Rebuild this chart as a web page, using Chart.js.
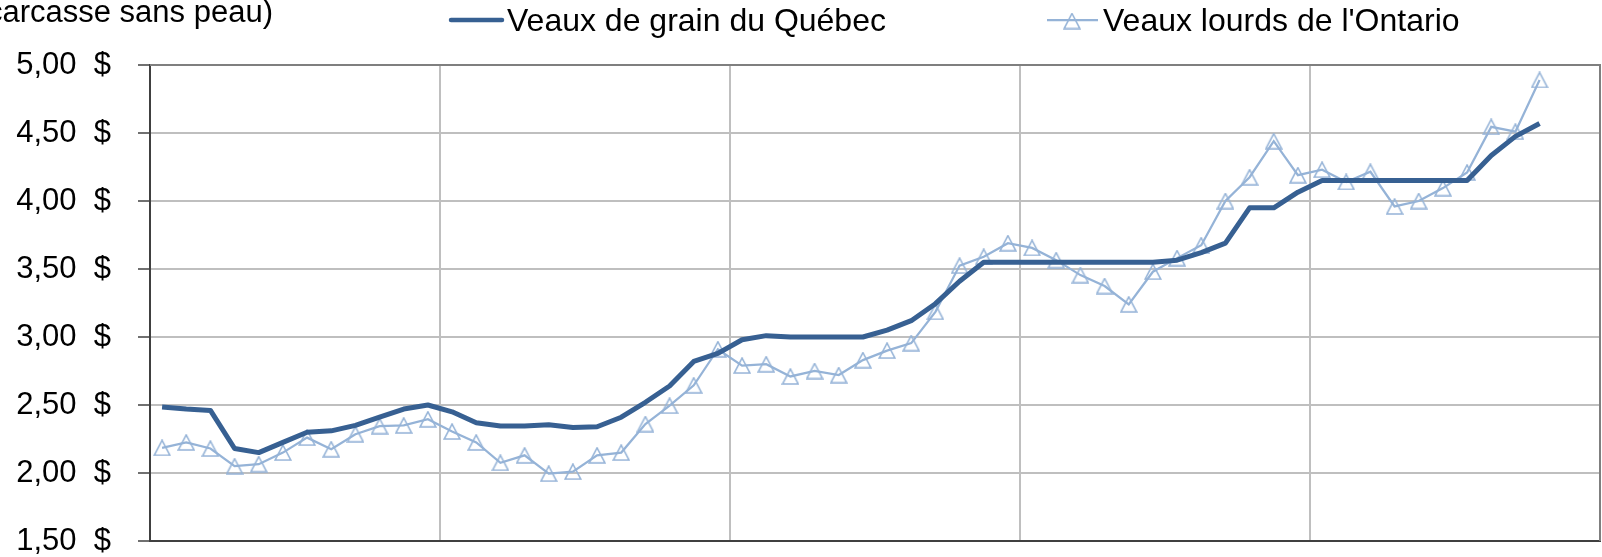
<!DOCTYPE html>
<html lang="fr">
<head>
<meta charset="utf-8">
<title>Prix des veaux</title>
<script src="https://cdn.jsdelivr.net/npm/chart.js@4.4.1/dist/chart.umd.min.js"></script>
<style>
  html, body { margin: 0; padding: 0; background: #fff; }
  #graphique { display: block; }
</style>
</head>
<body>
<canvas id="graphique" width="1602" height="557"></canvas>
<script>
// Catégories : 5 années de 12 mois (aucune étiquette n'est affichée sur l'axe)
const nomsMois = ['janv.', 'févr.', 'mars', 'avr.', 'mai', 'juin', 'juil.', 'août', 'sept.', 'oct.', 'nov.', 'déc.'];
const annees = ['an 1', 'an 2', 'an 3', 'an 4', 'an 5'];
const mois = annees.flatMap(a => nomsMois.map(m => m + ' ' + a));

// Prix ($)
const veauxQuebec = [
    2.485, 2.47, 2.46, 2.18, 2.15, 2.225, 2.30, 2.31, 2.35, 2.41, 2.47, 2.50,
    2.45, 2.37, 2.345, 2.345, 2.355, 2.335, 2.34, 2.41, 2.52, 2.64, 2.82, 2.88,
    2.98, 3.01, 3.00, 3.00, 3.00, 3.00, 3.05, 3.12, 3.245, 3.41, 3.55, 3.55,
    3.55, 3.55, 3.55, 3.55, 3.55, 3.55, 3.565, 3.62, 3.69, 3.95, 3.95, 4.065,
    4.15, 4.15, 4.15, 4.15, 4.15, 4.15, 4.15, 4.335, 4.475, 4.57
];
const veauxOntario = [
    2.185, 2.225, 2.18, 2.05, 2.065, 2.15, 2.26, 2.175, 2.285, 2.345, 2.35, 2.395,
    2.305, 2.225, 2.075, 2.13, 1.995, 2.01, 2.13, 2.15, 2.36, 2.495, 2.645, 2.91,
    2.79, 2.80, 2.71, 2.75, 2.72, 2.83, 2.90, 2.955, 3.185, 3.525, 3.59, 3.69,
    3.655, 3.565, 3.455, 3.375, 3.24, 3.48, 3.58, 3.675, 4.00, 4.175, 4.44, 4.19,
    4.23, 4.14, 4.215, 3.96, 4.00, 4.095, 4.21, 4.545, 4.51, 4.89
];

const graduationsY = [1.5, 2.0, 2.5, 3.0, 3.5, 4.0, 4.5, 5.0];

const POLICE = '"Liberation Sans", Arial, sans-serif';
const BLEU_FONCE = '#376092';
const BLEU_PALE = '#95B3D7';

// Triangle creux façon Excel, centré sur le point
function creerTriangle() {
    const c = document.createElement('canvas');
    c.width = 18;
    c.height = 17;
    const g = c.getContext('2d');
    g.strokeStyle = BLEU_PALE;
    g.lineWidth = 1.6;
    g.lineJoin = 'miter';
    g.beginPath();
    g.moveTo(9, 1);
    g.lineTo(16.8, 16);
    g.lineTo(1.2, 16);
    g.closePath();
    g.stroke();
    return c;
}
const triangle = creerTriangle();

// Légende, titre tronqué et bordure de la zone de tracé
const decor = {
    id: 'decor',
    afterDraw(chart) {
        const { ctx, chartArea: a } = chart;
        ctx.save();

        ctx.strokeStyle = '#7F7F7F';
        ctx.lineWidth = 2;
        ctx.beginPath();
        ctx.moveTo(a.left, a.top);
        ctx.lineTo(a.right, a.top);
        ctx.lineTo(a.right, a.bottom);
        ctx.stroke();

        ctx.fillStyle = '#000';
        ctx.textBaseline = 'alphabetic';
        ctx.font = '31px ' + POLICE;
        ctx.textAlign = 'right';
        ctx.fillText('(carcasse sans peau)', 273, 22);

        ctx.font = '32px ' + POLICE;
        ctx.textAlign = 'left';

        // Québec
        ctx.strokeStyle = BLEU_FONCE;
        ctx.lineWidth = 4.5;
        ctx.lineCap = 'round';
        ctx.beginPath();
        ctx.moveTo(451, 20);
        ctx.lineTo(502, 20);
        ctx.stroke();
        ctx.fillText(chart.data.datasets[0].label, 507, 31);

        // Ontario
        ctx.strokeStyle = BLEU_PALE;
        ctx.lineWidth = 2.25;
        ctx.lineCap = 'butt';
        ctx.beginPath();
        ctx.moveTo(1047, 20);
        ctx.lineTo(1098, 20);
        ctx.stroke();
        ctx.drawImage(triangle, 1072 - 9, 21 - 8.5);
        ctx.fillText(chart.data.datasets[1].label, 1103, 31);

        ctx.restore();
    }
};

new Chart(document.getElementById('graphique'), {
    type: 'line',
    data: {
        labels: mois,
        datasets: [
            {
                label: 'Veaux de grain du Québec',
                data: veauxQuebec,
                borderColor: BLEU_FONCE,
                borderWidth: 5,
                borderJoinStyle: 'round',
                pointRadius: 0,
                tension: 0
            },
            {
                label: "Veaux lourds de l'Ontario",
                data: veauxOntario,
                borderColor: BLEU_PALE,
                borderWidth: 2.25,
                pointStyle: triangle,
                pointRadius: 9,
                tension: 0
            }
        ]
    },
    options: {
        responsive: false,
        animation: false,
        layout: {
            autoPadding: false,
            padding: { top: 65, right: 2, bottom: 0, left: 0 }
        },
        plugins: {
            legend: { display: false },
            tooltip: { enabled: false }
        },
        scales: {
            x: {
                offset: true,
                afterFit: scale => { scale.height = 16; },
                ticks: { display: false, autoSkip: false },
                grid: {
                    offset: true,
                    drawTicks: false,
                    lineWidth: 2,
                    color: ctx => (ctx.index % 12 === 0 ? '#BFBFBF' : 'rgba(0,0,0,0)')
                },
                border: { color: '#404040', width: 2 }
            },
            y: {
                min: 1.5,
                max: 5,
                afterFit: scale => {
                    scale.width = 150;
                    scale.paddingTop = 0;
                    scale.paddingBottom = 0;
                },
                afterBuildTicks: scale => { scale.ticks = graduationsY.map(v => ({ value: v })); },
                ticks: {
                    padding: 27,
                    color: '#000',
                    font: { family: POLICE, size: 31 },
                    callback: v => v.toFixed(2).replace('.', ',') + '  $'
                },
                grid: {
                    color: '#BFBFBF',
                    lineWidth: 2,
                    tickColor: '#404040',
                    tickLength: 12,
                    tickWidth: 1.5
                },
                border: { color: '#404040', width: 2 }
            }
        }
    },
    plugins: [decor]
});
</script>
</body>
</html>
